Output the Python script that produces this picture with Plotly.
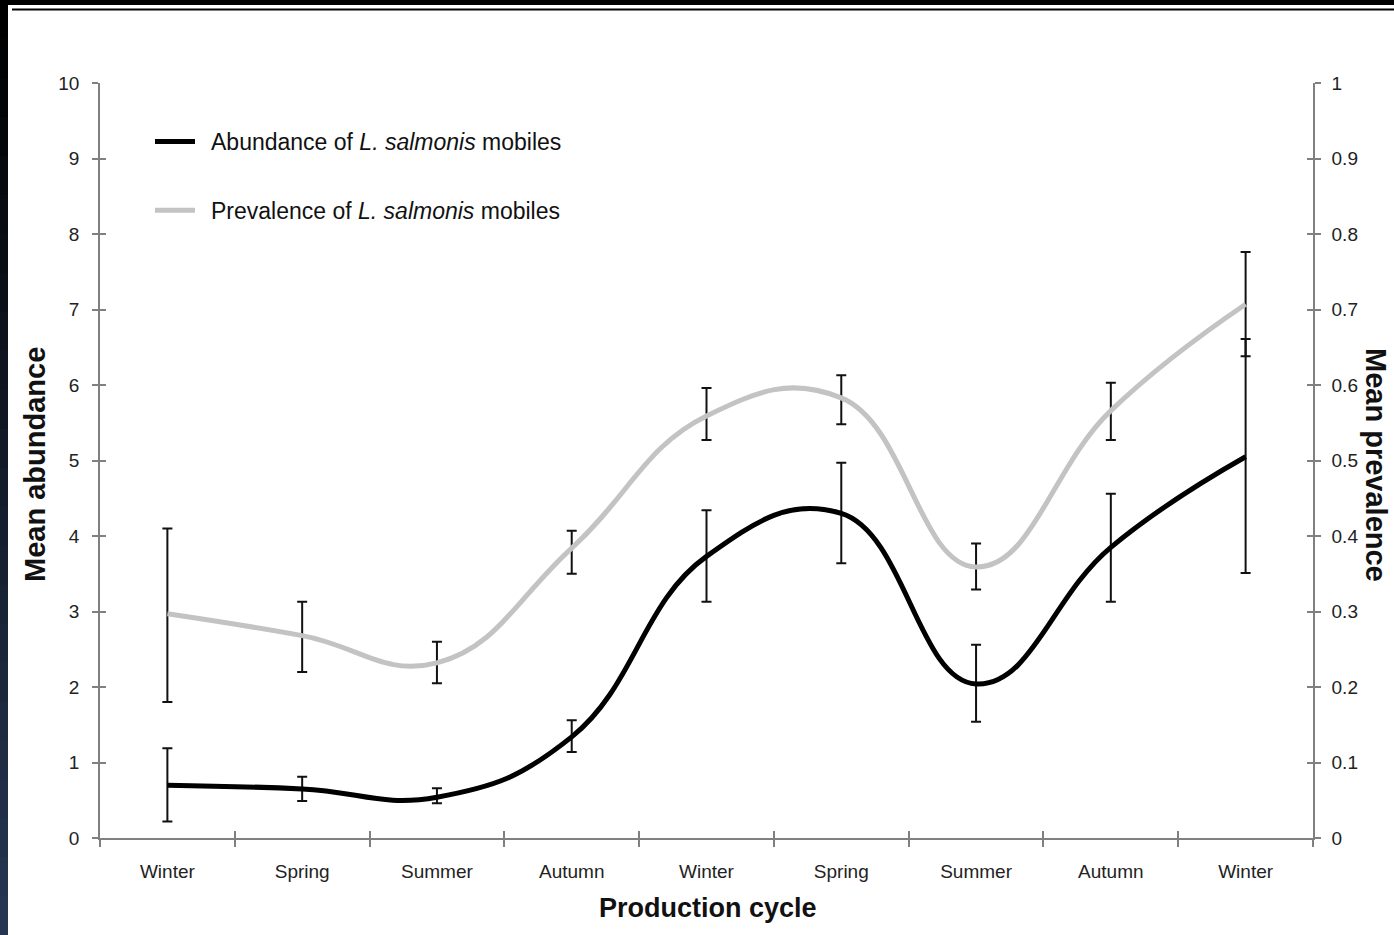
import plotly.graph_objects as go

# ---- data ----
seasons = ["Winter", "Spring", "Summer", "Autumn", "Winter", "Spring", "Summer", "Autumn", "Winter"]
abundance = [0.70, 0.65, 0.54, 1.34, 3.73, 4.30, 2.04, 3.85, 5.05]
abundance_upper = [1.19, 0.81, 0.66, 1.56, 4.34, 4.97, 2.56, 4.56, 6.61]
abundance_lower = [0.22, 0.49, 0.46, 1.14, 3.13, 3.64, 1.54, 3.13, 3.51]
prevalence = [0.297, 0.268, 0.232, 0.384, 0.559, 0.583, 0.359, 0.566, 0.707]
prevalence_upper = [0.41, 0.313, 0.26, 0.407, 0.596, 0.613, 0.39, 0.603, 0.776]
prevalence_lower = [0.18, 0.22, 0.205, 0.35, 0.527, 0.548, 0.329, 0.527, 0.638]
left_ticks = list(range(0, 11))
right_ticks = [0, 0.1, 0.2, 0.3, 0.4, 0.5, 0.6, 0.7, 0.8, 0.9, 1]
right_ticktext = ["0", "0.1", "0.2", "0.3", "0.4", "0.5", "0.6", "0.7", "0.8", "0.9", "1"]

W, H = 1394, 935
ML, MR, MT, MB = 100, 81, 83, 97
PW, PH = W - ML - MR, H - MT - MB

x_idx = list(range(len(seasons)))
FONT = "Liberation Sans, Arial, sans-serif"
AXC = "#808080"
SMOOTH = 1.25
GAP = "\u00a0\u2009"

fig = go.Figure()

fig.add_trace(go.Scatter(
    x=x_idx, y=abundance, mode="lines",
    name=GAP + "Abundance of <i>L. salmonis</i> mobiles",
    line=dict(color="#000000", width=5, shape="spline", smoothing=SMOOTH),
    error_y=dict(type="data", symmetric=False,
                 array=[u - m for u, m in zip(abundance_upper, abundance)],
                 arrayminus=[m - l for m, l in zip(abundance, abundance_lower)],
                 color="#111111", thickness=2, width=5),
    legendgroup="a",
))
fig.add_trace(go.Scatter(
    x=x_idx, y=prevalence, yaxis="y2", mode="lines",
    name=GAP + "Prevalence of <i>L. salmonis</i> mobiles",
    line=dict(color="#c3c3c3", width=5, shape="spline", smoothing=SMOOTH),
    error_y=dict(type="data", symmetric=False,
                 array=[u - m for u, m in zip(prevalence_upper, prevalence)],
                 arrayminus=[m - l for m, l in zip(prevalence, prevalence_lower)],
                 color="#111111", thickness=2, width=5),
    legendgroup="b",
))
# helper (empty) traces so the inner-tick overlay axes are drawn
fig.add_trace(go.Scatter(x=[], y=[], xaxis="x2", yaxis="y", showlegend=False, hoverinfo="skip"))
fig.add_trace(go.Scatter(x=[], y=[], yaxis="y3", showlegend=False, hoverinfo="skip"))
fig.add_trace(go.Scatter(x=[], y=[], yaxis="y4", showlegend=False, hoverinfo="skip"))

tickfont = dict(family=FONT, size=19, color="#222222")
xrange_ = [-0.5, len(seasons) - 0.5]

fig.update_layout(
    width=W, height=H,
    margin=dict(l=ML, r=MR, t=MT, b=MB, pad=0),
    paper_bgcolor="white", plot_bgcolor="white",
    font=dict(family=FONT, color="#222222"),
    showlegend=True,
    legend=dict(x=(150 - ML) / PW, y=(H - MB - 120) / PH, xanchor="left", yanchor="top",
                font=dict(family=FONT, size=23, color="#111111"),
                bgcolor="rgba(0,0,0,0)", tracegroupgap=36, itemwidth=40,
                traceorder="grouped"),
    xaxis=dict(range=xrange_, tickvals=x_idx, ticktext=seasons,
               showgrid=False, zeroline=False, showline=True, linecolor=AXC, linewidth=1.5,
               ticks="", tickfont=tickfont, ticklabelstandoff=15,
               minor=dict(ticks="outside", tick0=-0.5, dtick=1, ticklen=7, tickcolor=AXC, tickwidth=1.5),
               fixedrange=True),
    xaxis2=dict(range=xrange_, overlaying="x", side="bottom", showgrid=False, zeroline=False,
                showline=False, tickvals=[i - 0.5 for i in range(len(seasons) + 1)],
                ticktext=[""] * (len(seasons) + 1), ticks="inside", ticklen=7,
                tickcolor=AXC, tickwidth=1.5),
    yaxis=dict(range=[0, 10], tickvals=left_ticks, showgrid=False, zeroline=False,
               showline=True, linecolor=AXC, linewidth=1.5, ticks="outside", ticklen=6,
               tickcolor=AXC, tickwidth=1.5, tickfont=tickfont, ticklabelstandoff=9),
    yaxis2=dict(range=[0, 1], overlaying="y", side="right", tickvals=right_ticks,
                ticktext=right_ticktext, showgrid=False, zeroline=False,
                showline=True, linecolor=AXC, linewidth=1.5, ticks="outside", ticklen=6,
                tickcolor=AXC, tickwidth=1.5, tickfont=tickfont, ticklabelstandoff=7),
    yaxis3=dict(range=[0, 10], overlaying="y", side="left", tickvals=left_ticks,
                ticktext=[""] * len(left_ticks), showgrid=False, zeroline=False, showline=False,
                ticks="inside", ticklen=6, tickcolor=AXC, tickwidth=1.5),
    yaxis4=dict(range=[0, 1], overlaying="y", side="right", tickvals=right_ticks,
                ticktext=[""] * len(right_ticks), showgrid=False, zeroline=False, showline=False,
                ticks="inside", ticklen=6, tickcolor=AXC, tickwidth=1.5),
)

# axis titles
fig.add_annotation(text="<b>Mean abundance</b>", xref="paper", yref="paper",
                   x=(35 - ML) / PW, y=(H - MB - 465) / PH, textangle=-90, showarrow=False,
                   xanchor="center", yanchor="middle",
                   font=dict(family=FONT, size=29, color="#111111"))
fig.add_annotation(text="<b>Mean prevalence</b>", xref="paper", yref="paper",
                   x=(1376 - ML) / PW, y=(H - MB - 465) / PH, textangle=90, showarrow=False,
                   xanchor="center", yanchor="middle",
                   font=dict(family=FONT, size=29, color="#111111"))
fig.add_annotation(text="<b>Production cycle</b>", xref="paper", yref="paper",
                   x=(708 - ML) / PW, y=(H - MB - 908) / PH, showarrow=False,
                   xanchor="center", yanchor="middle",
                   font=dict(family=FONT, size=27, color="#111111"))

# slide-style frame
def px2x(px):
    return (px - ML) / PW

def px2y(py):
    return (H - MB - py) / PH

shapes = []
shapes.append(dict(type="rect", xref="paper", yref="paper", x0=px2x(0), x1=px2x(W),
                   y0=px2y(5), y1=px2y(0), fillcolor="black", line=dict(width=0), layer="above"))
shapes.append(dict(type="line", xref="paper", yref="paper", x0=px2x(12), x1=px2x(W),
                   y0=px2y(9.5), y1=px2y(9.5), line=dict(color="black", width=2), layer="above"))
nseg = 24
c0 = (0, 0, 0)
c1 = (38, 54, 82)
for i in range(nseg):
    t = i / (nseg - 1)
    col = "rgb(%d,%d,%d)" % tuple(int(a + (b - a) * t) for a, b in zip(c0, c1))
    ya = H * i / nseg
    yb = H * (i + 1) / nseg
    shapes.append(dict(type="rect", xref="paper", yref="paper", x0=px2x(0), x1=px2x(8),
                       y0=px2y(yb + 1), y1=px2y(ya), fillcolor=col, line=dict(width=0), layer="above"))
fig.update_layout(shapes=shapes)

fig.write_html("out.html", config={"displayModeBar": False},
               post_script="document.body.style.margin='0px';document.body.style.overflow='hidden';")
